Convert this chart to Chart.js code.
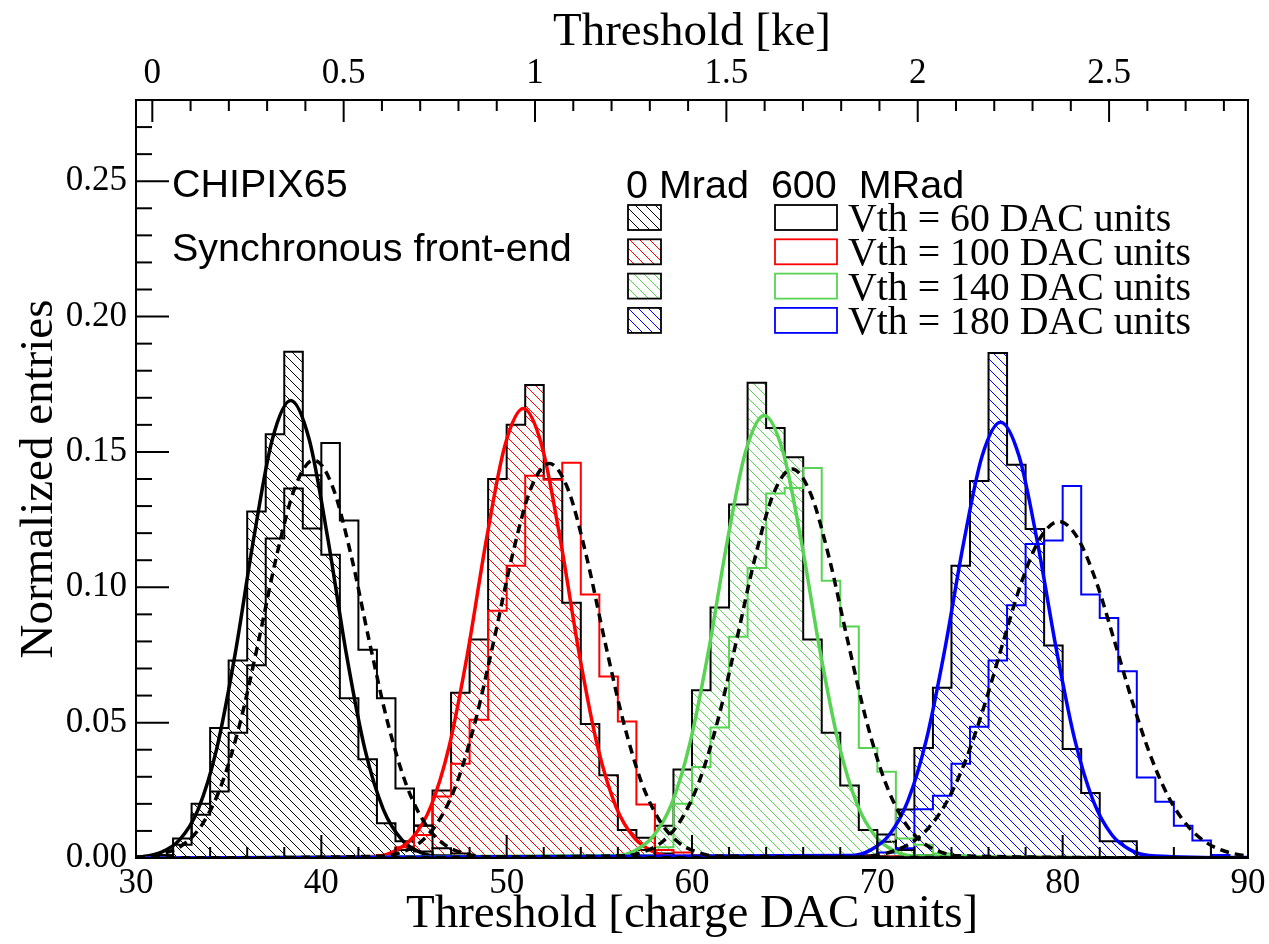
<!DOCTYPE html>
<html>
<head>
<meta charset="utf-8">
<script src="https://cdn.jsdelivr.net/npm/chart.js@4.4.1/dist/chart.umd.min.js"></script>
<style>
  html, body { margin: 0; padding: 0; background: #fff; }
</style>
</head>
<body>
<canvas id="thr" width="1269" height="944"></canvas>
<script>
// tick labels
const xTicks = [30, 40, 50, 60, 70, 80, 90];
const yTicks = [0, 0.05, 0.10, 0.15, 0.20, 0.25];
const keTicks = [0, 0.5, 1, 1.5, 2, 2.5];

// histograms, 1 DAC unit bins, first bin starts at the given edge
const h60Start = 30;
const h60_0Mrad = [0.0005, 0.001, 0.0072, 0.020, 0.048, 0.073, 0.128, 0.1565, 0.187, 0.1414, 0.112, 0.059, 0.0365, 0.0128, 0.0062, 0.0024, 0.001];
const h60_600Mrad = [0.0005, 0.001, 0.0049, 0.016, 0.0246, 0.0463, 0.0712, 0.118, 0.1365, 0.1217, 0.1533, 0.1247, 0.0769, 0.059, 0.0257, 0.012, 0.0036, 0.0017, 0.0005];
const h100Start = 43;
const h100_0Mrad = [0.001, 0.003, 0.0119, 0.0249, 0.061, 0.0807, 0.140, 0.160, 0.1747, 0.140, 0.0943, 0.0495, 0.0306, 0.0103, 0.0075, 0.0017, 0.0005];
const h100_600Mrad = [0.001, 0.004, 0.0085, 0.0227, 0.0348, 0.0511, 0.0913, 0.108, 0.1412, 0.1397, 0.146, 0.0973, 0.067, 0.0504, 0.0198, 0.003, 0.002, 0.001];
const h140Start = 56;
const h140_0Mrad = [0.001, 0.003, 0.0119, 0.0327, 0.062, 0.0925, 0.1306, 0.1756, 0.1588, 0.148, 0.0807, 0.0463, 0.0268, 0.0103, 0.0087, 0.003, 0.001];
const h140_600Mrad = [0.0005, 0.001, 0.004, 0.020, 0.0336, 0.0482, 0.0817, 0.1071, 0.1346, 0.1367, 0.1441, 0.1024, 0.0855, 0.0406, 0.0319, 0.0072, 0.0049, 0.0017, 0.001];
const h180Start = 69;
const h180_0Mrad = [0.001, 0.006, 0.0179, 0.0406, 0.0629, 0.108, 0.1393, 0.1865, 0.1453, 0.1215, 0.0785, 0.0403, 0.024, 0.0062, 0.0062, 0.0005];
const h180_600Mrad = [0.0005, 0.002, 0.0036, 0.018, 0.023, 0.0348, 0.0485, 0.073, 0.0934, 0.116, 0.1173, 0.1374, 0.0973, 0.0887, 0.069, 0.0297, 0.0208, 0.0119, 0.0065, 0.0011, 0.0005];

// fitted curves (x, y)
const fit60_0X = [30, 30.35, 31.35, 32.35, 33.35, 34.35, 35.35, 36.35, 37.35, 38.35, 39.35, 40.35, 41.35, 42.35, 43.35, 44.35, 45.35, 46.35, 90];
const fit60_0Y = [0.0003, 0.0005, 0.0021, 0.0067, 0.0179, 0.0402, 0.0754, 0.118, 0.1545, 0.169, 0.1545, 0.118, 0.0754, 0.0402, 0.0179, 0.0067, 0.0021, 0.0005, 0];
const fit60_600X = [30, 30.6, 31.6, 32.6, 33.6, 34.6, 35.6, 36.6, 37.6, 38.6, 39.6, 40.6, 41.6, 42.6, 43.6, 44.6, 45.6, 46.6, 47.6, 48.6, 49.6, 90];
const fit60_600Y = [0.0003, 0.0006, 0.0019, 0.0052, 0.0127, 0.0268, 0.0495, 0.0797, 0.112, 0.1373, 0.147, 0.1373, 0.112, 0.0797, 0.0495, 0.0268, 0.0127, 0.0052, 0.0019, 0.0006, 0.0002, 0];
const fit100_0X = [30, 42.9, 43.9, 44.9, 45.9, 46.9, 47.9, 48.9, 49.9, 50.9, 51.9, 52.9, 53.9, 54.9, 55.9, 56.9, 57.9, 58.9, 90];
const fit100_0Y = [0, 0.0006, 0.0024, 0.0073, 0.0189, 0.0413, 0.076, 0.1174, 0.1522, 0.166, 0.1522, 0.1174, 0.076, 0.0413, 0.0189, 0.0073, 0.0024, 0.0006, 0];
const fit100_600X = [30, 43.3, 44.3, 45.3, 46.3, 47.3, 48.3, 49.3, 50.3, 51.3, 52.3, 53.3, 54.3, 55.3, 56.3, 57.3, 58.3, 59.3, 60.3, 61.3, 90];
const fit100_600Y = [0, 0.0007, 0.0021, 0.0056, 0.0133, 0.0275, 0.0503, 0.080, 0.1116, 0.1364, 0.1457, 0.1364, 0.1116, 0.080, 0.0503, 0.0275, 0.0133, 0.0056, 0.0021, 0.0007, 0];
const fit140_0X = [30, 55.9, 56.9, 57.9, 58.9, 59.9, 60.9, 61.9, 62.9, 63.9, 64.9, 65.9, 66.9, 67.9, 68.9, 69.9, 70.9, 71.9, 90];
const fit140_0Y = [0, 0.0008, 0.0027, 0.008, 0.020, 0.0427, 0.0768, 0.1169, 0.1503, 0.1635, 0.1503, 0.1169, 0.0768, 0.0427, 0.020, 0.008, 0.0027, 0.0008, 0];
const fit140_600X = [30, 56.4, 57.4, 58.4, 59.4, 60.4, 61.4, 62.4, 63.4, 64.4, 65.4, 66.4, 67.4, 68.4, 69.4, 70.4, 71.4, 72.4, 73.4, 74.4, 90];
const fit140_600Y = [0, 0.0008, 0.0023, 0.006, 0.014, 0.0285, 0.051, 0.0803, 0.1109, 0.1346, 0.1437, 0.1346, 0.1109, 0.0803, 0.051, 0.0285, 0.014, 0.006, 0.0023, 0.0008, 0];
const fit180_0X = [30, 68.65, 69.65, 70.65, 71.65, 72.65, 73.65, 74.65, 75.65, 76.65, 77.65, 78.65, 79.65, 80.65, 81.65, 82.65, 83.65, 84.65, 90];
const fit180_0Y = [0, 0.0009, 0.003, 0.0086, 0.0211, 0.0438, 0.0774, 0.1162, 0.1484, 0.161, 0.1484, 0.1162, 0.0774, 0.0438, 0.0211, 0.0086, 0.003, 0.0009, 0];
const fit180_600X = [30, 68.8, 69.8, 70.8, 71.8, 72.8, 73.8, 74.8, 75.8, 76.8, 77.8, 78.8, 79.8, 80.8, 81.8, 82.8, 83.8, 84.8, 85.8, 86.8, 87.8, 88.8, 89.8, 90];
const fit180_600Y = [0, 0.0003, 0.0009, 0.0024, 0.0055, 0.0114, 0.0214, 0.0367, 0.0569, 0.080, 0.1023, 0.1183, 0.1243, 0.1183, 0.1023, 0.080, 0.0569, 0.0367, 0.0214, 0.0114, 0.0055, 0.0024, 0.0009, 0.0008];

const legendRows = ['Vth = 60 DAC units', 'Vth = 100 DAC units', 'Vth = 140 DAC units', 'Vth = 180 DAC units'];
const groupColors = ['#000000', '#ff0000', '#59d354', '#0000ff'];

const sans = 'Liberation Sans';
const serif = 'Liberation Serif';

const canvas = document.getElementById('thr');
const ctx = canvas.getContext('2d');

// "\\\" hatch like ROOT fill style
function hatch(color) {
    const s = 10;
    const c = document.createElement('canvas');
    c.width = s; c.height = s;
    const g = c.getContext('2d');
    g.strokeStyle = color;
    g.lineWidth = 1;
    g.beginPath();
    for (const o of [-s, 0, s]) { g.moveTo(o, 0); g.lineTo(o + s, s); }
    g.stroke();
    return ctx.createPattern(c, 'repeat');
}
const patterns = groupColors.map(hatch);

function steps(start, vals) {
    const pts = [{ x: start, y: 0 }];
    vals.forEach((v, i) => pts.push({ x: start + i, y: v }));
    pts.push({ x: start + vals.length, y: 0 });
    return pts;
}
function curve(xs, ys) {
    return xs.map((x, i) => ({ x: x, y: ys[i] }));
}

function fitSet(xs, ys, color, dashed) {
    return {
        data: curve(xs, ys), borderColor: color, borderWidth: 3.5,
        borderDash: dashed ? [9, 6] : [], pointRadius: 0, fill: false,
        cubicInterpolationMode: 'monotone', xAxisID: 'x', yAxisID: 'y'
    };
}
function outlineSet(start, vals, color) {
    return {
        data: steps(start, vals), borderColor: color, borderWidth: 2,
        pointRadius: 0, fill: false, stepped: 'before', xAxisID: 'x', yAxisID: 'y'
    };
}
function hatchSet(start, vals, idx) {
    return {
        data: steps(start, vals), borderColor: '#000', borderWidth: 2,
        backgroundColor: patterns[idx], pointRadius: 0, fill: 'origin',
        stepped: 'before', xAxisID: 'x', yAxisID: 'y'
    };
}

// first dataset ends up on top
const datasets = [
    fitSet(fit60_600X, fit60_600Y, '#000', true),
    fitSet(fit100_600X, fit100_600Y, '#000', true),
    fitSet(fit140_600X, fit140_600Y, '#000', true),
    fitSet(fit180_600X, fit180_600Y, '#000', true),
    fitSet(fit180_0X, fit180_0Y, groupColors[3], false),
    fitSet(fit140_0X, fit140_0Y, groupColors[2], false),
    fitSet(fit100_0X, fit100_0Y, groupColors[1], false),
    fitSet(fit60_0X, fit60_0Y, groupColors[0], false),
    outlineSet(h60Start, h60_600Mrad, groupColors[0]),
    outlineSet(h100Start, h100_600Mrad, groupColors[1]),
    outlineSet(h140Start, h140_600Mrad, groupColors[2]),
    outlineSet(h180Start, h180_600Mrad, groupColors[3]),
    hatchSet(h60Start, h60_0Mrad, 0),
    hatchSet(h100Start, h100_0Mrad, 1),
    hatchSet(h140Start, h140_0Mrad, 2),
    hatchSet(h180Start, h180_0Mrad, 3)
];

// frame, inward ticks and the text boxes
const rootLook = {
    id: 'rootLook',
    afterDatasetsDraw(chart) {
        const { ctx, chartArea: a, scales } = chart;
        ctx.save();
        ctx.strokeStyle = '#000';
        ctx.lineWidth = 2;
        const seg = (x1, y1, x2, y2) => { ctx.beginPath(); ctx.moveTo(x1, y1); ctx.lineTo(x2, y2); ctx.stroke(); };
        for (let i = 0; i <= 27; i++) {
            const y = scales.y.getPixelForValue(i / 100);
            seg(a.left, y, a.left + (i % 5 === 0 ? 33 : 16), y);
        }
        for (let v = 30; v <= 90; v += 2) {
            const x = scales.x.getPixelForValue(v);
            seg(x, a.bottom, x, a.bottom - ((v - 30) % 10 === 0 ? 23 : 11));
        }
        for (let i = 0; i <= 28; i++) {
            const x = scales.x2.getPixelForValue(i / 10);
            seg(x, a.top, x, a.top + (i % 5 === 0 ? 22 : 11));
        }
        ctx.strokeRect(a.left, a.top, a.right - a.left, a.bottom - a.top);
        ctx.restore();
    },
    afterDraw(chart) {
        const ctx = chart.ctx;
        ctx.save();
        ctx.fillStyle = '#000';
        ctx.textAlign = 'left';
        ctx.textBaseline = 'alphabetic';
        ctx.font = '39.5px "' + sans + '"';
        ctx.fillText('CHIPIX65', 172, 197);
        ctx.fillText('Synchronous front-end', 172, 261);
        ctx.fillText('0 Mrad  600  MRad', 626, 198);
        legendRows.forEach((t, i) => {
            const top = 205 + i * 34.3;
            ctx.fillStyle = patterns[i];
            ctx.fillRect(628, top, 33, 25);
            ctx.lineWidth = 1.8;
            ctx.strokeStyle = '#000';
            ctx.strokeRect(628, top, 33, 25);
            ctx.strokeStyle = groupColors[i];
            ctx.strokeRect(775, top, 62, 25);
            ctx.fillStyle = '#000';
            ctx.font = '39.8px "' + serif + '"';
            ctx.fillText(t, 848, top + 26);
        });
        ctx.restore();
    }
};

Chart.defaults.font.family = serif;
Chart.defaults.color = '#000';

const noSidePad = s => { s.paddingLeft = 0; s.paddingRight = 0; };

new Chart(ctx, {
    type: 'line',
    data: { datasets: datasets },
    plugins: [rootLook],
    options: {
        responsive: false,
        animation: false,
        layout: { padding: { left: 0, right: 21, top: 0, bottom: 0 } },
        plugins: { legend: { display: false }, tooltip: { enabled: false } },
        scales: {
            x: {
                type: 'linear', position: 'bottom', min: 30, max: 90,
                grid: { display: false, drawTicks: false }, border: { display: false },
                afterBuildTicks: s => { s.ticks = xTicks.map(v => ({ value: v })); },
                afterFit: s => { s.height = 86; noSidePad(s); },
                ticks: { autoSkip: false, maxRotation: 0, padding: 8, font: { size: 35, lineHeight: 1 }, callback: v => String(v) },
                title: { display: true, text: 'Threshold [charge DAC units]', font: { size: 47, lineHeight: 1 }, padding: { top: 0, bottom: 6 } }
            },
            x2: {
                type: 'linear', axis: 'x', position: 'top', min: -0.0426, max: 2.863,
                grid: { display: false, drawTicks: false }, border: { display: false },
                afterBuildTicks: s => { s.ticks = keTicks.map(v => ({ value: v })); },
                afterFit: s => { s.height = 100; noSidePad(s); },
                ticks: { autoSkip: false, maxRotation: 0, padding: 9, font: { size: 35, lineHeight: 1 }, callback: v => String(v) },
                title: { display: true, text: 'Threshold [ke]', font: { size: 47, lineHeight: 1 }, padding: { top: 9, bottom: 0 } }
            },
            y: {
                type: 'linear', position: 'left', min: 0, max: 0.28,
                grid: { display: false, drawTicks: false }, border: { display: false },
                afterBuildTicks: s => { s.ticks = yTicks.map(v => ({ value: v })); },
                afterFit: s => { s.width = 136; },
                ticks: { autoSkip: false, padding: 9, font: { size: 35, lineHeight: 1 }, callback: v => v.toFixed(2) },
                title: { display: true, text: 'Normalized entries', font: { size: 47, lineHeight: 1 }, padding: { top: 16, bottom: 0 } }
            }
        }
    }
});
</script>
</body>
</html>
